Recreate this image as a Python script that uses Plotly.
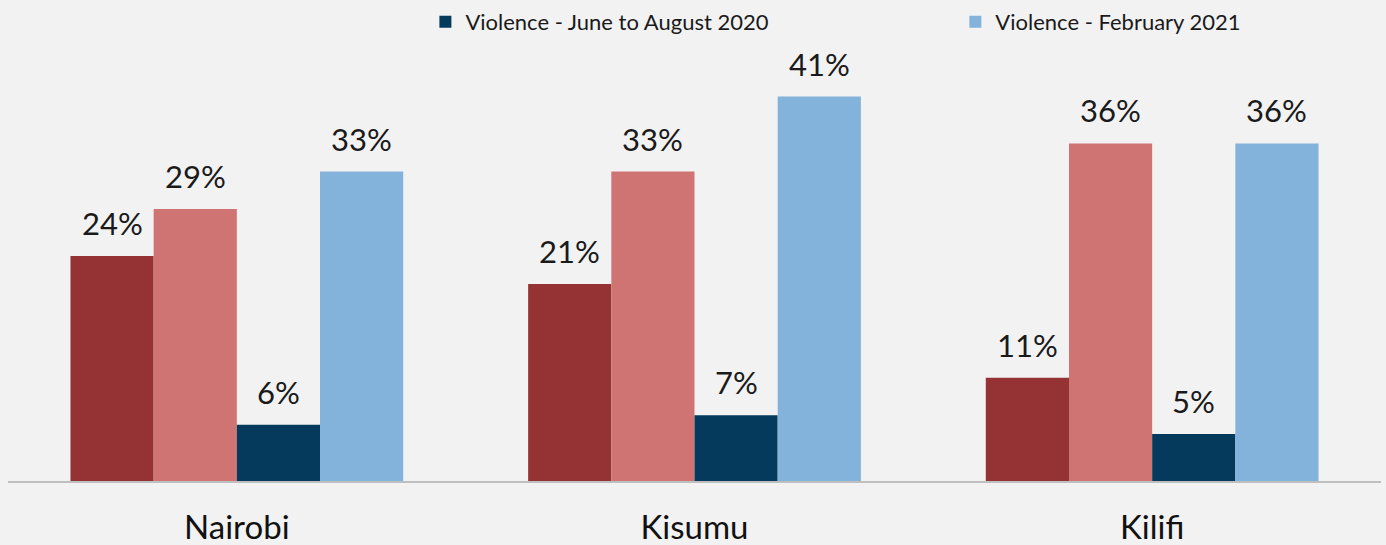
import plotly.graph_objects as go

cities = ["Nairobi", "Kisumu", "Kilifi"]
series_a = [24, 21, 11]          # dark red (no legend entry shown)
series_b = [29, 33, 36]          # light red (no legend entry shown)
violence_2020 = [6, 7, 5]        # Violence - June to August 2020
violence_2021 = [33, 41, 36]     # Violence - February 2021

FONT = "Lato, 'Open Sans', sans-serif"
BARGAP = 0.273
fig = go.Figure()

series = [
    (series_a, "Series A", "#943234", False, "legend"),
    (series_b, "Series B", "#cf7473", False, "legend"),
    (violence_2020, "Violence - June to August 2020", "#053a5c", True, "legend"),
    (violence_2021, "Violence - February 2021", "#83b2da", True, "legend2"),
]

for vals, name, color, show, leg in series:
    fig.add_trace(go.Bar(
        x=cities, y=vals, name=name, marker=dict(color=color, line=dict(width=0)),
        showlegend=show, legend=leg, hoverinfo="skip",
    ))

# value labels above bars, offset within each group
W, L, R = 1386, 8, 5
cat_px = (W - L - R) / len(cities)
bar_px = cat_px * (1 - BARGAP) / len(series)
for k, (vals, *_rest) in enumerate(series):
    for c, v in zip(cities, vals):
        fig.add_annotation(
            x=c, y=v, xref="x", yref="y", text=f"{v}%", showarrow=False,
            xshift=(k - (len(series) - 1) / 2) * bar_px, yshift=33,
            yanchor="middle", xanchor="center",
            font=dict(family=FONT, size=31, color="#1a1a1a"),
        )

legend_common = dict(orientation="h", yanchor="middle", xanchor="left",
                     font=dict(family=FONT, size=22, color="#1a1a1a"),
                     bgcolor="rgba(0,0,0,0)")

fig.update_layout(
    width=W, height=545,
    paper_bgcolor="#f2f2f2", plot_bgcolor="#f2f2f2",
    barmode="group", bargap=BARGAP, bargroupgap=0,
    margin=dict(l=L, r=R, t=59, b=64, autoexpand=False),
    legend=dict(x=0.304, y=1.088, **legend_common),
    legend2=dict(x=0.690, y=1.088, **legend_common),
    xaxis=dict(showline=True, linecolor="#bfbfbf", linewidth=2, ticks="",
               ticklabelstandoff=16, automargin=False,
               tickfont=dict(family=FONT, size=33, color="#111111"), showgrid=False),
    yaxis=dict(range=[0, 45], visible=False, showgrid=False, zeroline=False,
               automargin=False),
)

fig.write_html("out.html", config={"displayModeBar": False},
               post_script="document.body.style.margin='0';document.body.style.background='#f2f2f2';")
